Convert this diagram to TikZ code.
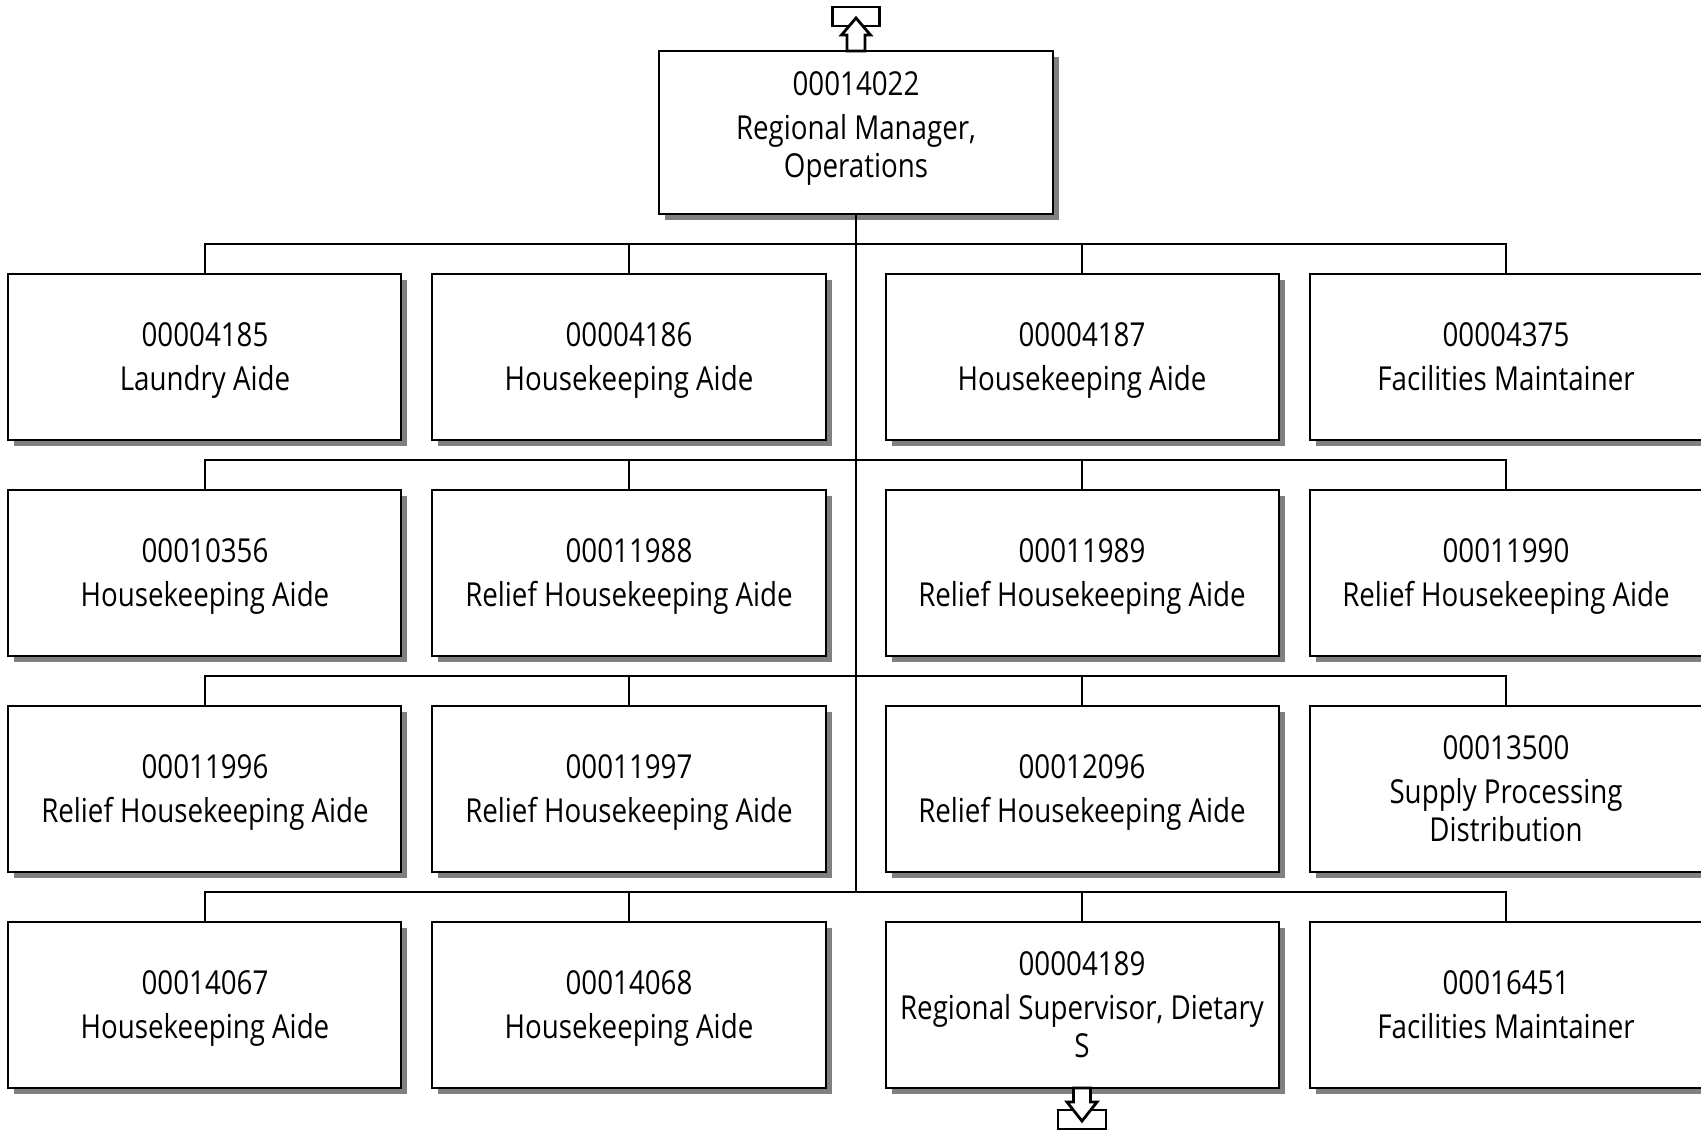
\documentclass[tikz,border=0pt]{standalone}
\usepackage{fontspec}
\setmainfont{Open Sans}[FakeStretch=0.84]
\usetikzlibrary{positioning,shadows}
\tikzset{
  orgbox/.style={draw, line width=1pt, fill=white, align=center, inner sep=2pt, outer sep=0pt, minimum width=196.5pt, minimum height=83pt, font=\fontsize{16.5}{19}\selectfont, text depth=0.8pt, drop shadow={shadow xshift=3pt, shadow yshift=-3pt, fill=black!50, opacity=1}},
  orglink/.style={line width=1pt},
  orgicon/.style={draw, line width=1.4pt, fill=white, line join=miter}
}

\begin{document}
\begin{tikzpicture}
  \useasboundingbox (-428pt,-499.25pt) rectangle (422.5pt,66.25pt);
  \node[orgbox, minimum height=81.5pt, text depth=8.4pt] (top) at (0,0) {00014022\\[3pt]Regional Manager,\\Operations};
  % row 1
  \node[orgbox, below=30pt of top, xshift=-113.5pt] (r1c2) {00004186\\[3pt]Housekeeping Aide};
  \node[orgbox, left=15.5pt of r1c2] (r1c1) {00004185\\[3pt]Laundry Aide};
  \node[orgbox, right=30pt of r1c2] (r1c3) {00004187\\[3pt]Housekeeping Aide};
  \node[orgbox, right=15.5pt of r1c3] (r1c4) {00004375\\[3pt]Facilities Maintainer};
  % row 2
  \node[orgbox, below=25pt of r1c1] (r2c1) {00010356\\[3pt]Housekeeping Aide};
  \node[orgbox, below=25pt of r1c2] (r2c2) {00011988\\[3pt]Relief Housekeeping Aide};
  \node[orgbox, below=25pt of r1c3] (r2c3) {00011989\\[3pt]Relief Housekeeping Aide};
  \node[orgbox, below=25pt of r1c4] (r2c4) {00011990\\[3pt]Relief Housekeeping Aide};
  % row 3
  \node[orgbox, below=25pt of r2c1] (r3c1) {00011996\\[3pt]Relief Housekeeping Aide};
  \node[orgbox, below=25pt of r2c2] (r3c2) {00011997\\[3pt]Relief Housekeeping Aide};
  \node[orgbox, below=25pt of r2c3] (r3c3) {00012096\\[3pt]Relief Housekeeping Aide};
  \node[orgbox, below=25pt of r2c4] (r3c4) {00013500\\[3pt]Supply Processing\\Distribution};
  % row 4
  \node[orgbox, below=25pt of r3c1] (r4c1) {00014067\\[3pt]Housekeeping Aide};
  \node[orgbox, below=25pt of r3c2] (r4c2) {00014068\\[3pt]Housekeeping Aide};
  \node[orgbox, below=25pt of r3c3] (r4c3) {00004189\\[3pt]Regional Supervisor, Dietary\\S};
  \node[orgbox, below=25pt of r3c4] (r4c4) {00016451\\[3pt]Facilities Maintainer};
  % connectors
  \coordinate (r4bus) at ([yshift=15pt]r4c1.north);
  \draw[orglink] (top.south) -- (top.south |- r4bus);
  \foreach \r in {1,2,3,4} {
    \draw[orglink] (r\r c1.north) -- ++(0,15pt) -| (r\r c4.north);
    \draw[orglink] (r\r c2.north) -- ++(0,15pt);
    \draw[orglink] (r\r c3.north) -- ++(0,15pt);
  }
  % off-page markers
  \draw[orgicon] ([shift={(-11.75pt,12.5pt)}]top.north) rectangle ++(23.5pt,9.5pt);
  \draw[orgicon] ([xshift=-4.5pt]top.north) -- ++(0,8pt) -- ++(-2.75pt,0) -- ([yshift=16.5pt]top.north)
    -- ([shift={(7.25pt,8pt)}]top.north) -- ++(-2.75pt,0) -- ([xshift=4.5pt]top.north) -- cycle;
  \draw[orgicon] ([shift={(-12pt,-11pt)}]r4c3.south) rectangle ++(24pt,-9.5pt);
  \draw[orgicon] ([xshift=-4.25pt]r4c3.south) -- ++(0,-7pt) -- ++(-3.25pt,0) -- ([yshift=-16.5pt]r4c3.south)
    -- ([shift={(7.5pt,-7pt)}]r4c3.south) -- ++(-3.25pt,0) -- ([xshift=4.25pt]r4c3.south) -- cycle;
\end{tikzpicture}
\end{document}
